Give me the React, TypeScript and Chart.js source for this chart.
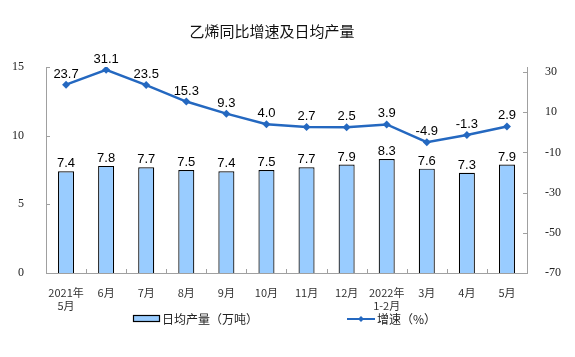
import React, { useEffect, useRef } from "react";
import { Chart, registerables } from "chart.js";

Chart.register(...registerables);

const categories: string[][] = [
  ["2021年", "5月"], ["6月"], ["7月"], ["8月"], ["9月"], ["10月"], ["11月"], ["12月"],
  ["2022年", "1-2月"], ["3月"], ["4月"], ["5月"],
];
const output: number[] = [7.4, 7.8, 7.7, 7.5, 7.4, 7.5, 7.7, 7.9, 8.3, 7.6, 7.3, 7.9];
const growth: number[] = [23.7, 31.1, 23.5, 15.3, 9.3, 4.0, 2.7, 2.5, 3.9, -4.9, -1.3, 2.9];
const leftTicks: number[] = [0, 5, 10, 15];
const rightTicks: number[] = [-70, -50, -30, -10, 10, 30];
const titleText = "乙烯同比增速及日均产量";
const barLabel = "日均产量（万吨）";
const lineLabel = "增速（%）";

const LINE_COLOR = "#2468C0";
const BAR_COLOR = "#99CCFF";
const AXIS_COLOR = "#A0A0A0";

const decor = {
  id: "decor",
  afterDatasetsDraw(chart: any) {
    const ctx = chart.ctx;
    const area = chart.chartArea;
    const x = chart.scales.x;
    const yL = chart.scales.y;
    const yR = chart.scales.y1;
    ctx.save();
    ctx.strokeStyle = AXIS_COLOR;
    ctx.lineWidth = 1;
    ctx.beginPath();
    leftTicks.forEach((v) => {
      const py = Math.round(yL.getPixelForValue(v)) + 0.5;
      ctx.moveTo(area.left, py);
      ctx.lineTo(area.left + 4, py);
    });
    rightTicks.forEach((v) => {
      const py = Math.round(yR.getPixelForValue(v)) + 0.5;
      ctx.moveTo(area.right, py);
      ctx.lineTo(area.right - 4, py);
    });
    const step = x.getPixelForValue(1) - x.getPixelForValue(0);
    for (let i = 1; i < categories.length; i++) {
      const px = Math.round(x.getPixelForValue(i) - step / 2) + 0.5;
      ctx.moveTo(px, area.bottom);
      ctx.lineTo(px, area.bottom - 4);
    }
    ctx.stroke();

    ctx.fillStyle = "#000";
    ctx.font = "13px 'Liberation Sans', Arial, sans-serif";
    ctx.textAlign = "center";
    ctx.textBaseline = "alphabetic";
    const barMeta = chart.getDatasetMeta(1);
    barMeta.data.forEach((el: any, i: number) => {
      ctx.fillText(output[i].toFixed(1), el.x, el.y - 4);
    });
    const lineMeta = chart.getDatasetMeta(0);
    lineMeta.data.forEach((el: any, i: number) => {
      ctx.fillText(growth[i].toFixed(1), el.x, el.y - 7);
    });

    ctx.font = "15px 'Noto Sans CJK SC', sans-serif";
    ctx.textBaseline = "middle";
    ctx.fillStyle = "#111";
    ctx.fillText(titleText, 272, 31);

    ctx.textAlign = "left";
    ctx.font = "12px 'Noto Sans CJK SC', sans-serif";
    ctx.fillStyle = BAR_COLOR;
    ctx.fillRect(133.5, 315.5, 26, 6);
    ctx.strokeStyle = "#000";
    ctx.lineWidth = 1.2;
    ctx.strokeRect(133.5, 315.5, 26, 6);
    ctx.fillStyle = "#222";
    ctx.fillText(barLabel, 162, 319);
    ctx.strokeStyle = LINE_COLOR;
    ctx.lineWidth = 2;
    ctx.beginPath();
    ctx.moveTo(347, 319);
    ctx.lineTo(375, 319);
    ctx.stroke();
    ctx.fillStyle = LINE_COLOR;
    ctx.beginPath();
    ctx.moveTo(361, 316);
    ctx.lineTo(364, 319);
    ctx.lineTo(361, 322);
    ctx.lineTo(358, 319);
    ctx.closePath();
    ctx.fill();
    ctx.fillStyle = "#222";
    ctx.fillText(lineLabel, 377, 319);
    ctx.restore();
  },
};

export default function App() {
  const ref = useRef<HTMLCanvasElement | null>(null);
  useEffect(() => {
    if (!ref.current) return;
    const chart = new Chart(ref.current, {
      type: "bar",
      data: {
        labels: categories as any,
        datasets: [
          {
            type: "line",
            label: lineLabel,
            data: growth,
            yAxisID: "y1",
            borderColor: LINE_COLOR,
            backgroundColor: LINE_COLOR,
            borderWidth: 2.5,
            pointStyle: "rectRot",
            pointRadius: 4,
            pointBorderWidth: 0,
            tension: 0,
            order: 0,
          } as any,
          {
            type: "bar",
            label: barLabel,
            data: output,
            yAxisID: "y",
            backgroundColor: BAR_COLOR,
            borderColor: "#000",
            borderWidth: 1.2,
            categoryPercentage: 1,
            barPercentage: 0.4,
            order: 1,
          },
        ],
      },
      options: {
        animation: false,
        responsive: false,
        maintainAspectRatio: false,
        layout: { padding: { top: 67, left: 0, right: 0, bottom: 0 } },
        plugins: {
          legend: { display: false },
          title: { display: false },
          tooltip: { enabled: false },
        },
        scales: {
          x: {
            grid: { display: false },
            border: { display: true, color: AXIS_COLOR, width: 1 },
            ticks: {
              color: "#333",
              font: { family: "'Noto Sans CJK SC', sans-serif", size: 11 },
              padding: 5,
              maxRotation: 0,
              autoSkip: false,
            },
            afterFit: (s: any) => { s.height = 84; },
          },
          y: {
            position: "left",
            min: 0,
            max: 15,
            grid: { display: false },
            border: { display: true, color: AXIS_COLOR, width: 1 },
            ticks: {
              stepSize: 5,
              color: "#222",
              font: { family: "'Liberation Serif', 'Times New Roman', serif", size: 12 },
              padding: 14,
            },
            afterFit: (s: any) => { s.width = 46; },
          },
          y1: {
            position: "right",
            min: -70,
            max: 32.5,
            grid: { display: false },
            border: { display: true, color: AXIS_COLOR, width: 1 },
            ticks: {
              color: "#222",
              font: { family: "'Liberation Serif', 'Times New Roman', serif", size: 12 },
              padding: 10,
            },
            afterBuildTicks: (s: any) => {
              s.ticks = rightTicks.map((v) => ({ value: v }));
            },
            afterFit: (s: any) => { s.width = 48; },
          },
        },
      },
      plugins: [decor],
    } as any);
    return () => chart.destroy();
  }, []);
  return (
    <div style={{ position: "absolute", left: 0, top: 0, width: 575, height: 357, background: "#fff" }}>
      <canvas ref={ref} width={575} height={357} style={{ width: 575, height: 357 }} />
    </div>
  );
}
